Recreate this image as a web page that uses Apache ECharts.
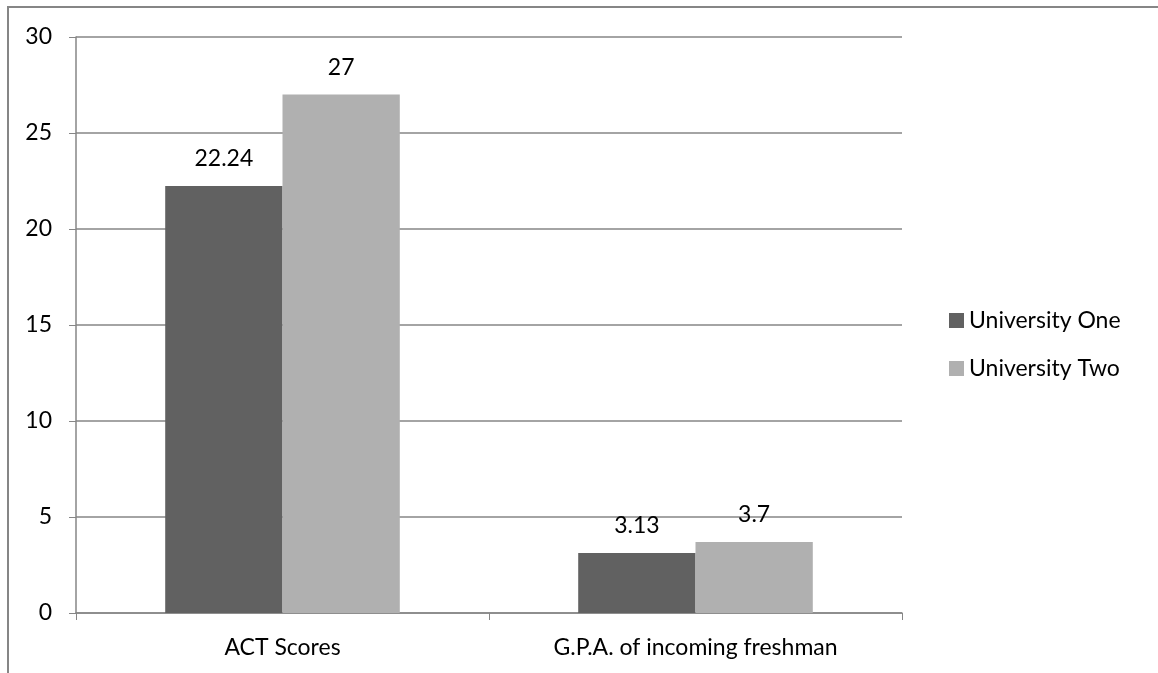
<!DOCTYPE html>
<html>
<head>
<meta charset="utf-8">
<script src="https://cdn.jsdelivr.net/npm/echarts@6/dist/echarts.min.js"></script>
<style>
  html, body { margin: 0; padding: 0; background: #fff; }
  #chart { width: 1158px; height: 673px; }
</style>
</head>
<body>
<div id="chart"></div>
<script>
// Categories, series and axis ticks
var categories = ['ACT Scores', 'G.P.A. of incoming freshman'];
var universityOne = [22.24, 3.13];
var universityTwo = [27, 3.7];
var seriesNames = ['University One', 'University Two'];
var yTicks = [0, 5, 10, 15, 20, 25, 30];

var FONT = 'Lato, "Open Sans", sans-serif';
var FONT_SIZE = 23;
var AXIS_GRAY = '#868686';

var chart = echarts.init(document.getElementById('chart'));

function barSeries(name, values, color) {
  return {
    name: name,
    type: 'bar',
    data: values,
    barWidth: '28.4%',
    barGap: '0%',
    itemStyle: { color: color },
    label: {
      show: true,
      position: 'top',
      distance: 16,
      color: '#000',
      fontFamily: FONT,
      fontSize: FONT_SIZE
    }
  };
}

chart.setOption({
  animation: false,
  backgroundColor: '#fff',
  textStyle: { fontFamily: FONT },
  // chart frame
  graphic: [{
    type: 'rect',
    shape: { x: 8, y: 7, width: 1200, height: 720 },
    style: { fill: 'none', stroke: AXIS_GRAY, lineWidth: 2 },
    z: -1
  }],
  grid: { left: 76, right: 256, top: 37, bottom: 60, containLabel: false },
  legend: {
    orient: 'vertical',
    left: 944,
    top: 304,
    itemWidth: 15,
    itemHeight: 15,
    itemGap: 25,
    icon: 'rect',
    textStyle: { fontFamily: FONT, fontSize: FONT_SIZE, color: '#000' },
    data: seriesNames
  },
  xAxis: {
    type: 'category',
    data: categories,
    axisLine: { lineStyle: { color: AXIS_GRAY, width: 1.5 } },
    axisTick: { show: true, length: 7, alignWithLabel: false, lineStyle: { color: AXIS_GRAY } },
    axisLabel: { color: '#000', fontFamily: FONT, fontSize: FONT_SIZE, margin: 23 }
  },
  yAxis: {
    type: 'value',
    min: yTicks[0],
    max: yTicks[yTicks.length - 1],
    interval: yTicks[1] - yTicks[0],
    axisLine: { show: true, lineStyle: { color: AXIS_GRAY, width: 1.5 } },
    axisTick: { show: true, length: 7, lineStyle: { color: AXIS_GRAY } },
    axisLabel: { color: '#000', fontFamily: FONT, fontSize: FONT_SIZE, margin: 24 },
    splitLine: { show: true, lineStyle: { color: AXIS_GRAY, width: 1.5 } }
  },
  series: [
    barSeries(seriesNames[0], universityOne, '#616161'),
    barSeries(seriesNames[1], universityTwo, '#b0b0b0')
  ]
});
</script>
</body>
</html>
